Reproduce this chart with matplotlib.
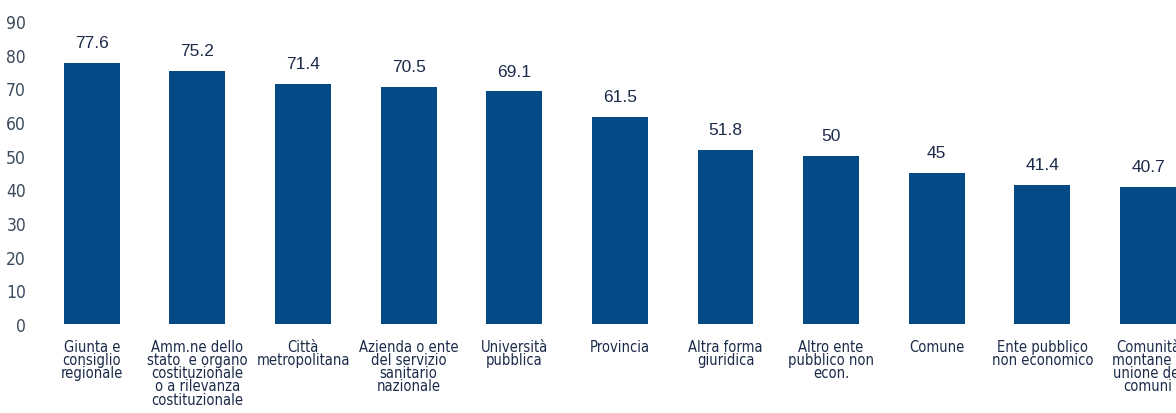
import matplotlib.pyplot as plt
from matplotlib import font_manager

categories = ["Giunta e\nconsiglio\nregionale",
              "Amm.ne dello\nstato  e organo\ncostituzionale\no a rilevanza\ncostituzionale",
              "Città\nmetropolitana",
              "Azienda o ente\ndel servizio\nsanitario\nnazionale",
              "Università\npubblica",
              "Provincia",
              "Altra forma\ngiuridica",
              "Altro ente\npubblico non\necon.",
              "Comune",
              "Ente pubblico\nnon economico",
              "Comunità\nmontane e\nunione dei\ncomuni"]
values = [77.6, 75.2, 71.4, 70.5, 69.1, 61.5, 51.8, 50, 45, 41.4, 40.7]
yticks = [0, 10, 20, 30, 40, 50, 60, 70, 80, 90]

# condensed face for the axis texts
cond = [f for f in font_manager.fontManager.ttflist
        if "Condensed" in f.fname and f.name == "DejaVu Sans"]
print([f.fname for f in cond])
print(sorted({f.name for f in font_manager.fontManager.ttflist}))

bar_color = "#044a87"
text_color = "#1c2b4a"

fig = plt.figure(figsize=(11.76, 4.14), dpi=100)
ax = fig.add_axes([40 / 1176, 89 / 414, 1136 / 1176, 303 / 414])

x = list(range(len(values)))
ax.bar(x, values, width=0.53, color=bar_color)
ax.set_xlim(-0.49, 10.265)
ax.set_ylim(0, 90)

for xi, v in zip(x, values):
    ax.annotate(f"{v:g}", (xi, v), xytext=(0, 9), textcoords="offset points",
                ha="center", va="bottom", fontsize=12.5, color=text_color,
                family="Liberation Sans")

for xi, lab in zip(x, categories):
    ax.text(xi, -4.4, lab, ha="center", va="top", fontsize=10.5, color=text_color,
            family="DejaVu Sans", fontstretch="condensed", linespacing=0.85,
            clip_on=False)

ax.set_xticks([])
ax.set_yticks(yticks)
ax.set_yticklabels([str(t) for t in yticks], family="DejaVu Sans",
                   fontstretch="condensed", fontsize=12.5, color="#3b4a5c")
ax.tick_params(axis="y", length=0, pad=10)
for s in ax.spines.values():
    s.set_visible(False)

fig.savefig("out.png", dpi=100)
